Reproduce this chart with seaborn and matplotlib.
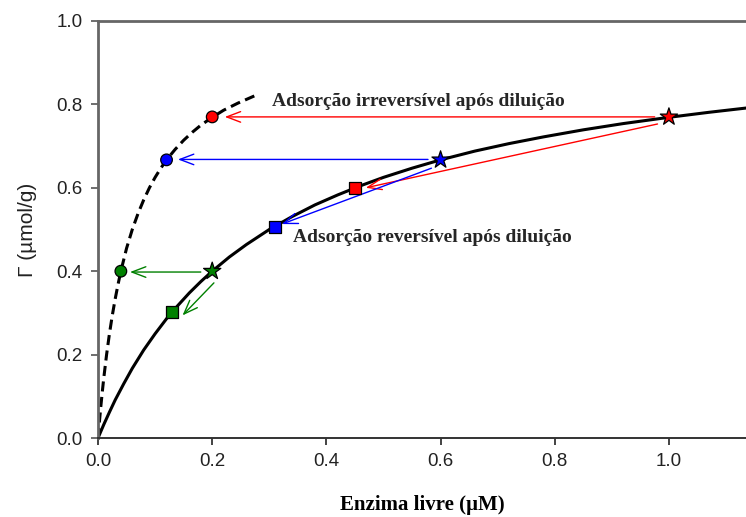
import matplotlib
matplotlib.use("Agg")
import matplotlib.pyplot as plt
import pandas as pd
import seaborn as sns

# Adsorption isotherm (solid): free enzyme (µM) vs adsorbed amount (µmol/g)
iso_x = [0.0, 0.01, 0.02, 0.03, 0.045, 0.06, 0.08, 0.10, 0.12, 0.14, 0.16,
         0.18, 0.20, 0.23, 0.26, 0.30, 0.34, 0.38, 0.42, 0.46, 0.50, 0.55,
         0.60, 0.66, 0.72, 0.78, 0.85, 0.92, 1.00, 1.07, 1.14]
iso_y = [0.0, 0.032, 0.062, 0.091, 0.130, 0.167, 0.211, 0.250, 0.286, 0.318,
         0.348, 0.375, 0.400, 0.434, 0.464, 0.500, 0.531, 0.559, 0.583,
         0.605, 0.625, 0.647, 0.667, 0.688, 0.706, 0.722, 0.739, 0.754,
         0.769, 0.781, 0.792]

# Irreversible-adsorption curve (dashed)
irr_x = [0.0, 0.0025, 0.005, 0.0075, 0.01, 0.015, 0.02, 0.025, 0.03, 0.035,
         0.04, 0.05, 0.06, 0.07, 0.08, 0.09, 0.10, 0.11, 0.12, 0.135, 0.15,
         0.165, 0.18, 0.20, 0.22, 0.245, 0.275]
irr_y = [0.0, 0.040, 0.077, 0.111, 0.143, 0.200, 0.250, 0.294, 0.333, 0.368,
         0.400, 0.455, 0.500, 0.538, 0.571, 0.600, 0.625, 0.647, 0.667,
         0.692, 0.714, 0.733, 0.750, 0.769, 0.786, 0.803, 0.821]

# Marked points: before dilution (stars), reversible (squares), irreversible (circles)
colors = ["red", "blue", "green"]
star_x = [1.00, 0.60, 0.20]
star_y = [0.770, 0.667, 0.400]
square_x = [0.45, 0.31, 0.13]
square_y = [0.600, 0.506, 0.302]
circle_x = [0.20, 0.12, 0.04]
circle_y = [0.770, 0.667, 0.400]

x_ticks = [0.0, 0.2, 0.4, 0.6, 0.8, 1.0]
y_ticks = [0.0, 0.2, 0.4, 0.6, 0.8, 1.0]

label_irr = "Adsorção irreversível após diluição"
label_rev = "Adsorção reversível após diluição"
x_label = "Enzima livre (µM)"
y_label = "Γ (µmol/g)"

sns.set_style("ticks")
plt.rcParams["font.family"] = ["Liberation Sans", "DejaVu Sans"]

fig = plt.figure(figsize=(7.46, 5.17), dpi=100)
ax = fig.add_axes([0.1314, 0.1528, 0.8686, 0.8066])

iso = pd.DataFrame({"x": iso_x, "y": iso_y})
irr = pd.DataFrame({"x": irr_x, "y": irr_y})
sns.lineplot(data=iso, x="x", y="y", ax=ax, color="black", lw=2.2,
             sort=False, estimator=None)
sns.lineplot(data=irr, x="x", y="y", ax=ax, color="black", lw=2.2,
             sort=False, estimator=None)
ax.lines[-1].set_dashes([3.3, 1.8])

# Dilution arrows
arrow_kw = dict(arrowstyle="->,head_length=1.0,head_width=0.38", lw=1.0,
                shrinkA=0, shrinkB=0)
arrows = [
    ((0.975, 0.770), (0.222, 0.770), "red"),
    ((0.980, 0.753), (0.469, 0.600), "red"),
    ((0.578, 0.668), (0.140, 0.668), "blue"),
    ((0.584, 0.647), (0.322, 0.513), "blue"),
    ((0.180, 0.398), (0.056, 0.398), "green"),
    ((0.203, 0.372), (0.148, 0.294), "green"),
]
for start, end, c in arrows:
    ax.annotate("", xy=end, xytext=start,
                arrowprops=dict(color=c, **arrow_kw), zorder=3)

pts = pd.DataFrame({
    "x": star_x + square_x + circle_x,
    "y": star_y + square_y + circle_y,
    "c": colors * 3,
    "m": ["*"] * 3 + ["s"] * 3 + ["o"] * 3,
})
for marker, size in [("*", 170), ("s", 80), ("o", 70)]:
    sub = pts[pts["m"] == marker]
    sns.scatterplot(data=sub, x="x", y="y", ax=ax, marker=marker, s=size,
                    color=sub["c"].tolist(), edgecolor="black", linewidth=0.9,
                    zorder=5, legend=False)

serif = ["Liberation Serif", "DejaVu Serif"]
ax.text(0.305, 0.808, label_irr, fontsize=14, fontweight="bold",
        family=serif, ha="left", va="center")
ax.text(0.341, 0.482, label_rev, fontsize=14, fontweight="bold",
        family=serif, ha="left", va="center")

ax.set_xlim(0, 1.135)
ax.set_ylim(0, 1.0)
ax.set_xticks(x_ticks)
ax.set_yticks(y_ticks)
ax.set_xticklabels([f"{v:.1f}" for v in x_ticks])
ax.set_yticklabels([f"{v:.1f}" for v in y_ticks])
ax.tick_params(axis="both", labelsize=13.5, colors="#222222", length=5,
               width=1.2, pad=6)
ax.tick_params(axis="y", color="#555555")

ax.set_xlabel(x_label, fontsize=15, fontweight="bold", family=serif,
              labelpad=18, color="black")
ax.set_ylabel(y_label, fontsize=15, color="#222222", labelpad=14)

for side in ["left", "top"]:
    ax.spines[side].set_color("#666666")
    ax.spines[side].set_linewidth(2.0)
ax.spines["bottom"].set_color("#333333")
ax.spines["bottom"].set_linewidth(1.4)
ax.spines["right"].set_visible(False)

fig.savefig("out.png", dpi=100)
